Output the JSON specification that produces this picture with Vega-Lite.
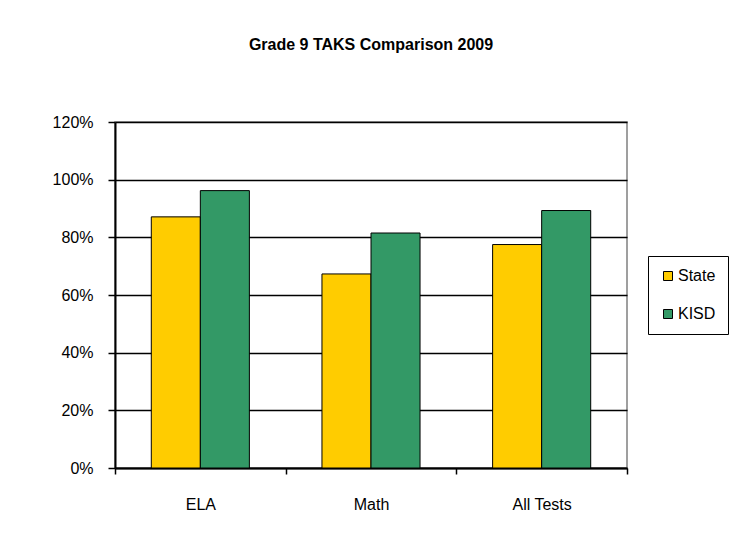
{
  "$schema": "https://vega.github.io/schema/vega-lite/v6.json",
  "autosize": {"type": "none"},
  "width": 512,
  "height": 346,
  "padding": {"left": 115, "top": 122, "right": 115, "bottom": 78},
  "background": "white",
  "title": {
    "text": "Grade 9 TAKS Comparison 2009",
    "font": "Liberation Sans",
    "fontSize": 16,
    "fontWeight": "bold",
    "color": "black",
    "anchor": "middle",
    "offset": 61
  },
  "data": {
    "values": [
      {"test": "ELA", "group": "State", "pct": 0.871},
      {"test": "ELA", "group": "KISD", "pct": 0.962},
      {"test": "Math", "group": "State", "pct": 0.673},
      {"test": "Math", "group": "KISD", "pct": 0.815},
      {"test": "All Tests", "group": "State", "pct": 0.775},
      {"test": "All Tests", "group": "KISD", "pct": 0.893}
    ]
  },
  "mark": {"type": "bar", "stroke": "black", "strokeWidth": 1},
  "encoding": {
    "x": {
      "field": "test",
      "type": "nominal",
      "sort": ["ELA", "Math", "All Tests"],
      "scale": {"paddingInner": 0, "paddingOuter": 0},
      "axis": {
        "title": null,
        "labelAngle": 0,
        "labelFont": "Liberation Sans",
        "labelFontSize": 16,
        "labelColor": "black",
        "labelPadding": 22,
        "domainColor": "black",
        "domainWidth": 2,
        "tickColor": "black",
        "tickWidth": 1.5,
        "tickSize": 6,
        "tickBand": "extent",
        "grid": false
      }
    },
    "xOffset": {
      "field": "group",
      "type": "nominal",
      "sort": ["State", "KISD"],
      "scale": {"paddingInner": 0, "paddingOuter": 0.74}
    },
    "y": {
      "field": "pct",
      "type": "quantitative",
      "scale": {"domain": [0, 1.2], "nice": false},
      "axis": {
        "title": null,
        "format": ".0%",
        "values": [0, 0.2, 0.4, 0.6, 0.8, 1.0, 1.2],
        "labelFont": "Liberation Sans",
        "labelFontSize": 16,
        "labelColor": "black",
        "labelPadding": 15,
        "domainColor": "black",
        "domainWidth": 2,
        "tickColor": "black",
        "tickWidth": 1.5,
        "tickSize": 7,
        "grid": true,
        "gridColor": "black",
        "gridWidth": 1.4
      }
    },
    "color": {
      "field": "group",
      "type": "nominal",
      "sort": ["State", "KISD"],
      "scale": {"domain": ["State", "KISD"], "range": ["#FFCC00", "#339966"]},
      "legend": {
        "title": null,
        "orient": "none",
        "legendX": 533,
        "legendY": 134,
        "padding": 12,
        "rowPadding": 22,
        "strokeColor": "black",
        "fillColor": "white",
        "symbolType": "square",
        "symbolSize": 81,
        "symbolStrokeColor": "black",
        "symbolStrokeWidth": 1,
        "symbolOpacity": 1,
        "labelFont": "Liberation Sans",
        "labelFontSize": 16,
        "labelColor": "black",
        "labelOffset": 2
      }
    }
  },
  "config": {
    "view": {"stroke": "#808080", "strokeWidth": 1.5}
  }
}
